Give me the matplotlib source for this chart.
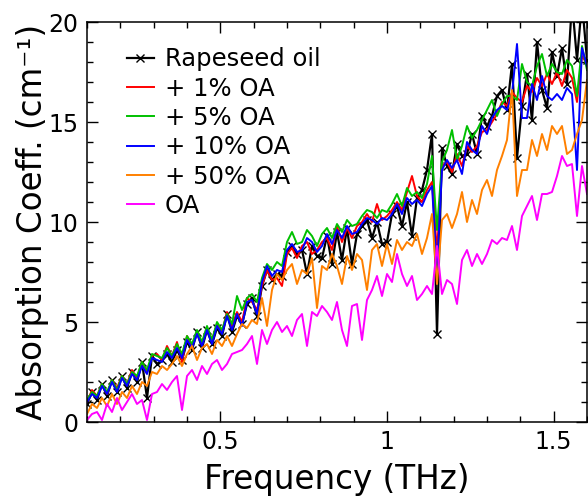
import numpy as np
from matplotlib import pyplot as plt
from matplotlib.ticker import MultipleLocator

# Frequency grid (THz) and absorption coefficients (cm^-1)
freq = np.round(np.arange(0.100, 1.6001, 0.015), 3)

rapeseed = [0.9, 1.5, 1.1, 1.9, 1.3, 2.1, 1.5, 2.3, 1.7, 2.5,
            2.0, 3.0, 1.2, 3.3, 2.9, 3.1, 3.4, 3.0, 3.6, 3.1,
            4.0, 3.6, 4.5, 3.7, 4.6, 3.9, 4.7, 4.3, 5.4, 4.5,
            5.3, 4.9, 5.9, 6.2, 5.3, 6.8, 7.6, 7.1, 7.4, 7.3,
            8.5, 8.8, 8.4, 8.6, 7.4, 8.8, 8.3, 8.2, 9.3, 7.9,
            9.5, 8.1, 9.7, 7.9, 9.4, 9.8, 10.1, 9.2, 10.0, 8.9,
            9.0, 10.4, 10.8, 9.8, 11.0, 9.3, 11.2, 11.6, 12.6, 14.4,
            4.4, 13.7, 12.8, 12.4, 13.9, 13.3, 13.4, 14.4, 13.4, 15.3,
            14.8, 15.3, 16.3, 16.6, 15.6, 17.9, 13.2, 15.8, 17.4, 15.1,
            19.0, 16.6, 15.7, 18.5, 17.3, 18.7, 16.9, 21.0, 18.1, 21.0, 18.1]

oa_1 = [1.0, 1.6, 1.3, 1.9, 1.4, 2.1, 1.7, 2.3, 1.9, 2.6,
        2.2, 3.0, 2.5, 3.3, 3.4, 3.1, 3.8, 3.3, 4.0, 3.0,
        4.3, 3.8, 4.5, 3.9, 4.7, 4.1, 4.9, 4.5, 5.5, 4.8,
        5.5, 5.0, 6.2, 6.0, 5.6, 6.8, 7.6, 7.1, 7.2, 6.8,
        8.4, 8.7, 8.2, 8.8, 9.0, 8.4, 8.6, 9.0, 9.2, 8.6,
        9.8, 9.0, 9.7, 9.2, 9.8, 10.0, 10.4, 10.0, 10.9, 10.1,
        10.3, 10.6, 11.0, 10.6, 11.5, 12.3, 11.3, 11.0, 11.6, 12.0,
        8.5, 12.8, 13.0, 12.5, 13.4, 12.8, 13.8, 13.5, 13.8, 14.5,
        14.6, 15.0, 15.4, 16.0, 15.8, 16.5, 16.2, 16.0, 16.8, 16.5,
        17.2, 16.8, 17.4, 16.9, 17.5, 16.8, 17.6, 17.2, 16.0, 18.3, 17.9]

oa_5 = [1.1, 1.5, 1.3, 1.9, 1.5, 2.1, 1.6, 2.3, 1.9, 2.5,
        2.3, 3.0, 2.6, 3.4, 3.3, 3.2, 3.7, 3.3, 3.9, 3.4,
        4.3, 3.9, 4.6, 4.0, 4.8, 4.1, 5.0, 4.6, 5.4, 4.9,
        6.3, 5.6, 6.2, 6.4, 6.0, 7.2, 7.9, 7.6, 8.0, 7.8,
        9.0, 9.5, 8.9, 9.0, 9.6, 9.3, 8.8, 9.4, 9.7, 9.2,
        9.9, 9.5, 10.1, 9.8, 9.9, 10.3, 10.6, 10.5, 10.2, 10.6,
        10.5, 10.9, 11.4, 10.8, 11.7, 11.3, 11.5, 11.2, 11.9, 13.3,
        9.6, 13.0, 13.6, 14.6, 13.1, 13.8, 14.8, 14.2, 14.6, 15.1,
        15.6, 16.1, 15.3, 15.9, 16.3, 16.3, 16.1, 17.9, 17.0, 16.8,
        17.8, 18.4, 17.3, 17.9, 17.5, 17.4, 18.1, 17.8, 16.3, 18.8, 17.6]

oa_10 = [1.0, 1.4, 1.2, 1.8, 1.4, 2.0, 1.5, 2.2, 1.8, 2.4,
         2.1, 2.8, 2.4, 3.2, 3.1, 3.0, 3.5, 3.2, 3.7, 3.2,
         4.1, 3.7, 4.4, 3.8, 4.6, 3.9, 4.8, 4.4, 5.3, 4.6,
         5.4, 4.8, 6.0, 6.1, 5.4, 7.0, 7.8, 7.3, 7.6, 7.5,
         8.6, 8.9, 8.5, 8.6, 9.2, 9.0, 8.5, 8.8, 9.4, 8.9,
         9.6, 9.2, 9.8, 9.4, 9.5, 9.9, 10.2, 10.1, 9.9, 10.2,
         10.1, 10.4, 10.9, 10.4, 11.2, 10.9, 11.1, 10.8, 11.4, 11.8,
         7.6, 12.6, 13.1, 12.7, 13.1, 12.4, 14.0, 13.6, 13.4, 14.8,
         14.4, 15.2, 15.6, 15.8, 15.6, 16.4, 18.9, 15.2, 15.2, 16.9,
         16.1, 17.3, 16.3, 16.1, 16.4, 16.1, 16.7, 16.4, 12.6, 18.7, 17.8]

oa_50 = [0.4, 0.9, 0.7, 1.2, 0.8, 1.4, 0.9, 1.5, 1.2, 1.8,
         1.4, 2.0, 1.8, 2.5, 2.4, 2.8, 2.6, 2.9, 3.3, 2.8,
         3.4, 3.8, 3.1, 3.7, 3.9, 3.4, 4.1, 3.8, 4.3, 3.8,
         4.4, 4.9, 4.7, 5.1, 4.9, 6.2, 4.8, 6.6, 7.4, 7.1,
         7.6, 7.9, 6.9, 7.6, 7.4, 8.2, 5.7, 7.8, 7.6, 8.4,
         7.8, 6.9, 8.3, 7.6, 8.4, 8.1, 6.6, 8.6, 8.9, 7.8,
         8.9, 7.9, 9.1, 8.6, 9.0, 8.8, 9.4, 8.4, 9.2, 10.4,
         6.9, 10.1, 10.4, 9.7, 10.4, 11.5, 10.0, 11.1, 10.4, 11.6,
         12.1, 11.3, 12.6, 13.3, 14.1, 16.6, 11.3, 12.6, 12.6, 14.1,
         13.3, 14.4, 13.6, 14.8, 14.4, 14.8, 13.4, 13.6, 14.4, 15.1, 17.1]

oa_pure = [0.1, 0.4, 0.5, 0.1, 0.9, 0.5, 1.2, 0.6, 1.0, 1.4,
           0.9, 1.1, 0.1, 1.4, 1.5, 1.9, 1.6, 2.0, 2.3, 0.6,
           2.3, 2.6, 2.1, 2.8, 2.4, 2.9, 3.1, 2.6, 2.9, 3.4,
           3.5, 3.6, 3.9, 4.3, 2.9, 4.6, 3.9, 4.6, 5.0, 4.5,
           4.8, 4.3, 5.1, 5.4, 3.8, 5.5, 5.3, 5.8, 5.5, 5.1,
           6.0, 4.6, 3.8, 5.8, 5.9, 4.1, 6.1, 6.6, 7.3, 6.3,
           7.4, 7.0, 8.4, 7.4, 6.8, 7.3, 6.1, 6.4, 6.8, 6.4,
           8.8, 6.4, 7.1, 6.9, 5.9, 8.1, 8.6, 7.8, 8.4, 7.9,
           8.4, 9.1, 8.9, 9.2, 9.1, 9.8, 8.6, 10.3, 10.8, 11.3,
           10.1, 11.4, 11.4, 11.5, 12.3, 13.3, 12.8, 12.9, 10.3, 12.8, 11.4]

# Plot the data.
fig = plt.figure(figsize=(5.88, 4.96), dpi=100)
ax = fig.add_axes([87 / 588, 74 / 496, 500 / 588, 400 / 496])

lw = 1.4
ax.plot(freq, rapeseed, c='black', lw=1.6, marker='x', ms=5.5, mew=1,
        label='Rapeseed oil')
ax.plot(freq, oa_1, c='#ff0000', lw=lw, label='+ 1% OA')
ax.plot(freq, oa_5, c='#00c000', lw=lw, label='+ 5% OA')
ax.plot(freq, oa_10, c='#0000ff', lw=lw, label='+ 10% OA')
ax.plot(freq, oa_50, c='#ff8000', lw=lw, label='+ 50% OA')
ax.plot(freq, oa_pure, c='#ff00ff', lw=lw, label='OA')

# Format the plot.
ax.set_xlim(0.1, 1.6)
ax.set_ylim(0, 20)
ax.xaxis.set_minor_locator(MultipleLocator(0.1))
ax.yaxis.set_major_locator(MultipleLocator(5))
ax.yaxis.set_minor_locator(MultipleLocator(1))
ax.set_xticks([0.5, 1.0, 1.5])
ax.set_xticklabels(['0.5', '1', '1.5'])
ax.tick_params(which='both', direction='in', top=True, right=True,
               labelsize=17, width=1)
ax.tick_params(which='major', length=8, pad=6)
ax.tick_params(which='minor', length=4.5)
for s in ax.spines.values():
    s.set_linewidth(1.1)

ax.set_xlabel('Frequency (THz)', fontsize=23.5, labelpad=6)
ax.set_ylabel('Absorption Coeff. (cm\u207b\u00b9)', fontsize=23.5, labelpad=0)

ax.legend(loc='upper left', bbox_to_anchor=(0.08, 0.937), frameon=False,
          fontsize=17.5, handlelength=1.1, handletextpad=0.45,
          labelspacing=0.22, borderpad=0, borderaxespad=0)

fig.savefig('out.png', dpi=100)
